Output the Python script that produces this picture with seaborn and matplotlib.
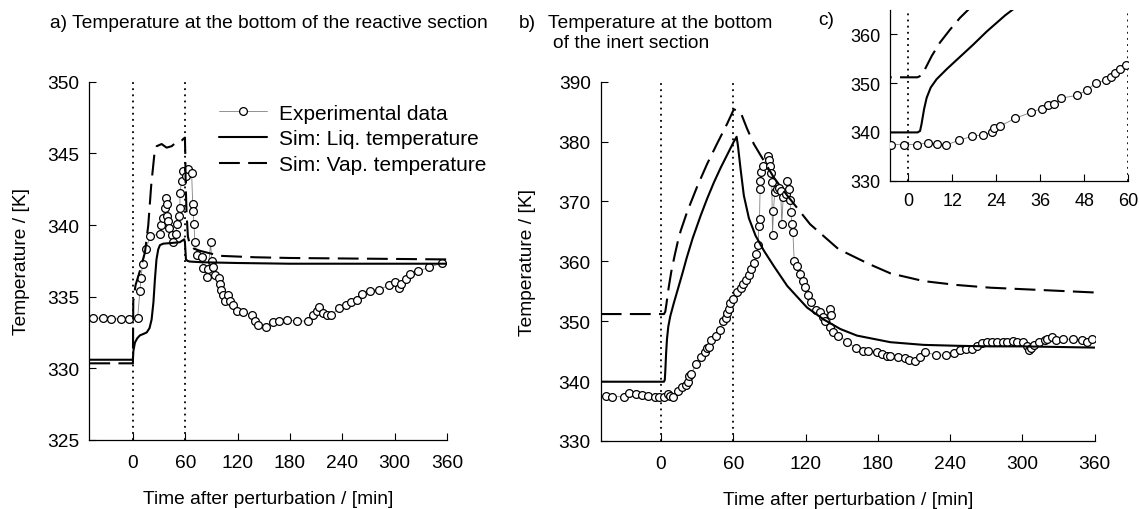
import numpy as np
import pandas as pd
import matplotlib
matplotlib.use("Agg")
import matplotlib.pyplot as plt
import seaborn as sns

# ---------------- data ----------------
# Panel a: bottom of reactive section
a_exp_t = [-45.5, -34, -25.6, -14.1, -4.2, 5.4, 8, 9.2, 11.1, 14.9, 19.5, 31, 32.1, 34, 36.7, 37.8,
           39.4, 38.6, 40.5, 41.3, 44.4, 46.2, 49, 50.8, 53.1, 53.9, 53.9, 55.8, 57.7, 60.4, 62.7,
           67.3, 68.5, 69.1, 69.9, 71.1, 73.7, 78.8, 80.6, 84.5, 86.3, 89.1, 90.2, 92.1, 94, 99,
           99.8, 100.6, 102.9, 105.5, 109.3, 111.2, 114.3, 119.6, 126.5, 136.1, 139.9, 143.7, 152.5,
           160.9, 167.8, 176.3, 187.7, 201, 206.8, 211.4, 213.6, 217.5, 222.1, 226.7, 236.6, 244.3,
           250, 256.5, 262.3, 271.8, 282.1, 293.9, 300.5, 305, 307, 313.1, 317.7, 327.2, 339.9, 354.1]
a_exp_v = [333.5, 333.5, 333.45, 333.45, 333.45, 333.5, 335.4, 336.3, 337.3, 338.3, 339.2, 339.4,
           340.0, 340.5, 341.2, 341.9, 341.5, 340.65, 340.3, 339.8, 339.3, 338.8, 339.4, 340.1,
           340.65, 341.2, 342.2, 343.1, 343.8, 343.4, 343.9, 343.6, 341.5, 341.0, 340.1, 338.8,
           337.9, 337.8, 337.0, 336.35, 336.9, 338.8, 337.5, 337.05, 336.5, 336.3, 335.9, 335.5,
           335.1, 334.7, 335.1, 334.7, 334.4, 334.0, 333.95, 333.7, 333.3, 333.0, 332.85, 333.2,
           333.3, 333.4, 333.3, 333.3, 333.7, 334.0, 334.3, 333.85, 333.7, 333.7, 334.2, 334.4,
           334.65, 334.8, 335.2, 335.4, 335.5, 335.8, 336.0, 335.6, 335.9, 336.2, 336.6, 336.8,
           337.05, 337.35]

a_liq_t = [-50, 0, 0.5, 2.3, 5, 8, 12, 15.7, 19, 21.4, 23.5, 25.2, 27, 29, 31, 34.8, 45, 53.7, 58.8,
           59.6, 60.8, 62.5, 65.4, 80, 120, 180, 360]
a_liq_v = [330.6, 330.6, 331.2, 331.8, 332.1, 332.3, 332.4, 332.5, 332.8, 333.4, 334.6, 336.2,
           337.6, 338.3, 338.6, 338.7, 338.75, 338.8, 339.0, 338.8, 337.6, 337.5, 337.45, 337.4,
           337.35, 337.3, 337.3]

a_vap_t = [-50, 0, 0.4, 3, 8, 13.8, 17.6, 21, 25.2, 27.2, 32.9, 38.6, 44.4, 50.1, 55.8, 59.6, 60.0,
           60.4, 61.5, 63, 65.4, 70, 76.8, 99.8, 140, 180, 360]
a_vap_v = [330.35, 330.35, 334.7, 335.8, 336.8, 338.1, 340.0, 342.8, 345.3, 345.5, 345.65, 345.4,
           345.5, 345.8, 345.9, 346.1, 345.0, 343.0, 340.8, 339.2, 338.6, 338.35, 338.2, 337.85,
           337.75, 337.7, 337.6]

# Panel b: bottom of inert section (inset c shows the same series for 0-60 min)
b_exp_t = [-45.9, -40.4, -30.7, -26.5, -21, -15.5, -10.5,
           -4.8, -1.2, 2.5, 5.5, 7.7, 10.3, 13.8, 17.4, 20.4, 22.7, 23.4, 25, 29.2, 33.4, 36.4,
           38.1, 39.8, 41.6, 45.9, 48.8, 51.2, 53.9, 55.2, 56.5, 57.7, 59.5,
           63.5, 66.1, 68.5, 70.5, 72.8, 75.0, 77.1, 79.3, 80.6, 81.3, 81.8, 82.3, 82.6, 82.8,
           84.9, 88.6, 89.6, 90.4, 91.2, 92.0, 92.6, 93.4, 94.4, 96.3, 97.8, 99.4, 100.3, 101.5,
           103.5, 104.8, 106.2, 107.1, 107.7, 108.7, 109.5, 110.6, 112.8, 115, 117.8, 119.7,
           121.7, 124.4, 128.8, 132.1, 134.9, 136.3, 139.9, 141, 140.4, 142.6, 147.3, 154.7,
           161.9, 167.5, 172.2, 179.6, 183.2, 187.4, 190.1, 197, 202.6, 206.2, 210.9, 215,
           219.2, 228.3, 236.6, 243.3, 248.2, 253.2, 258, 262.7, 266.3, 270.4, 274.5, 279.3,
           284.2, 287.6, 292, 295.3, 300.8, 303.6, 305.8, 306.9, 309.7, 314.1, 318.8, 320.7,
           324.3, 327.9, 334, 341.7, 349.2, 353.9, 357.5]
b_exp_v = [337.5, 337.4, 337.4, 338.0, 337.8, 337.6, 337.5,
           337.4, 337.4, 337.4, 337.8, 337.5, 337.3, 338.3, 339.1, 339.4, 339.9, 340.8, 341.2,
           342.8, 344.0, 344.8, 345.5, 345.7, 346.9, 347.5, 348.6, 350.1, 350.6, 351.3, 352.0,
           353.0, 353.7,
           354.9, 355.6, 356.2, 356.9, 357.8, 358.7, 359.8, 361.2, 362.8, 365.9, 367.0, 372.1,
           373.5, 374.9, 376.0, 377.6, 377.0, 376.0, 374.8, 373.2, 364.4, 368.4, 371.5, 372.1,
           372.3, 371.8, 366.2, 370.8, 371.3, 373.4, 372.1, 370.2, 368.3, 366.3, 364.9, 360.1,
           359.2, 357.9, 356.8, 355.8, 354.3, 353.2, 351.9, 351.5, 350.7, 350.1, 352.1, 351.0,
           349.0, 348.2, 347.6, 346.6, 345.5, 345.1, 345.1, 344.9, 344.6, 344.2, 344.2, 344.0,
           343.9, 343.5, 343.3, 344.0, 344.9, 344.3, 344.4, 344.7, 345.2, 345.4, 345.4, 345.8,
           346.4, 346.6, 346.6, 346.6, 346.5, 346.6, 346.7, 346.6, 346.5, 345.9, 345.2, 345.6,
           346.0, 346.5, 346.9, 347.1, 347.3, 346.9, 347.0, 347.0, 346.9, 346.6, 347.0]

b_liq_t = [-50, 0, 2.5, 3.2, 3.6, 4.3, 5.0, 6.1, 7.7, 10.5, 14.1, 17.7, 21.4, 26.4, 32.9, 38.4, 44,
           49.5, 55, 60, 62.8, 63.9, 66.1, 68.8, 73, 78.5, 85.4, 93.7, 104.8, 121.2, 135, 148.9,
           162.7, 190.4, 218.1, 245.7, 273.4, 301, 360]
b_liq_v = [339.9, 339.9, 339.9, 340.2, 341.6, 344.7, 347.0, 349.1, 350.8, 352.9, 355.4, 357.9,
           360.6, 363.9, 367.6, 370.5, 373.2, 375.6, 377.8, 379.8, 380.8, 379.3, 375.4, 371.0,
           367.2, 364.3, 361.8, 359.2, 355.9, 352.3, 350.3, 348.7, 347.6, 346.5, 346.05, 345.9,
           345.8, 345.8, 345.6]

b_vap_t = [-50, 0, 2.5, 3.6, 4.5, 6.4, 8.6, 11.4, 14.1, 16.4, 21.8, 30.1, 38.4, 46.7, 55, 60.5,
           66.1, 71.6, 77.1, 85.4, 93.7, 104.8, 123.8, 147.3, 172.2, 190.4, 218.1, 245.7, 273.4,
           295.3, 360]
b_vap_v = [351.2, 351.2, 351.2, 351.6, 352.8, 355.6, 358.3, 361.0, 363.4, 365.1, 368.3, 372.5,
           376.3, 379.7, 383.0, 385.4, 384.9, 382.1, 379.6, 376.8, 374.0, 371.0, 366.2, 362.05,
           359.6, 358.0, 356.7, 356.05, 355.6, 355.4, 354.8]

perturb_lines = [0, 60]
a_xticks = [0, 60, 120, 180, 240, 300, 360]
a_yticks = [325, 330, 335, 340, 345, 350]
b_yticks = [330, 340, 350, 360, 370, 380, 390]
c_xticks = [0, 12, 24, 36, 48, 60]
c_yticks = [330, 340, 350, 360]

labels = ["Experimental data", "Sim: Liq. temperature", "Sim: Vap. temperature"]

# ---------------- style ----------------
sns.set_theme(style="ticks")
plt.rcParams["font.family"] = ["Liberation Sans", "DejaVu Sans"]
FS = 13.8
plt.rcParams.update({
    "axes.linewidth": 0.9,
    "xtick.direction": "in", "ytick.direction": "in",
    "xtick.major.size": 5, "ytick.major.size": 5,
    "xtick.major.width": 0.8, "ytick.major.width": 0.8,
    "xtick.color": "black", "ytick.color": "black",
    "axes.edgecolor": "black",
    "text.color": "black", "axes.labelcolor": "black",
})

W, H = 1139, 510
fig = plt.figure(figsize=(W / 100, H / 100), dpi=100)


def px_axes(l, t, r, b):
    return fig.add_axes([l / W, 1 - b / H, (r - l) / W, (b - t) / H])


ax_a = px_axes(89.3, 82.7, 447, 441)
ax_b = px_axes(600.7, 82.7, 1094.7, 442)
ax_c = px_axes(890, 11, 1128.3, 181.7)

LW_SIM = 1.5
DASH = (0, (10, 4))
DOT = (0, (1, 2.4))
MS = 5.6


def draw(ax, et, ev, lt, lv, vt, vv):
    sns.lineplot(x=et, y=ev, ax=ax, estimator=None, sort=False, color="0.5", lw=0.6,
                 marker="o", markersize=MS, markerfacecolor="white", markeredgecolor="black",
                 markeredgewidth=0.9, label=labels[0], legend=False, zorder=3)
    sns.lineplot(x=lt, y=lv, ax=ax, estimator=None, sort=False, color="black", lw=LW_SIM,
                 label=labels[1], legend=False, zorder=4)
    sns.lineplot(x=vt, y=vv, ax=ax, estimator=None, sort=False, color="black", lw=LW_SIM,
                 linestyle=DASH, label=labels[2], legend=False, zorder=4)
    for xv in perturb_lines:
        ax.axvline(xv, color="black", lw=1.3, linestyle=DOT, zorder=2)
    sns.despine(ax=ax)
    ax.set_xlabel("")
    ax.set_ylabel("")


draw(ax_a, a_exp_t, a_exp_v, a_liq_t, a_liq_v, a_vap_t, a_vap_v)
draw(ax_b, b_exp_t, b_exp_v, b_liq_t, b_liq_v, b_vap_t, b_vap_v)

ct = [t for t in b_exp_t if -6 <= t <= 61]
cv = [v for t, v in zip(b_exp_t, b_exp_v) if -6 <= t <= 61]
draw(ax_c, ct, cv, b_liq_t, b_liq_v, b_vap_t, b_vap_v)

# axes limits / ticks
ax_a.set_xlim(-50, 360); ax_a.set_ylim(325, 350)
ax_a.set_xticks(a_xticks); ax_a.set_yticks(a_yticks)
ax_b.set_xlim(-50, 360); ax_b.set_ylim(330, 390)
ax_b.set_xticks(a_xticks); ax_b.set_yticks(b_yticks)
ax_c.set_xlim(-5, 60); ax_c.set_ylim(330, 365)
ax_c.set_xticks(c_xticks); ax_c.set_yticks(c_yticks)
ax_c.set_facecolor("white")

for ax in (ax_a, ax_b):
    ax.tick_params(axis="x", labelsize=FS, pad=10.3)
    ax.tick_params(axis="y", labelsize=FS, pad=7.2)
    ax.set_xlabel("Time after perturbation / [min]", fontsize=FS)
    ax.set_ylabel("Temperature / [K]", fontsize=FS)
ax_c.tick_params(axis="x", labelsize=13, pad=8.0)
ax_c.tick_params(axis="y", labelsize=13, pad=7)

ax_a.yaxis.set_label_coords(-0.166, 0.5)
ax_a.xaxis.set_label_coords(0.5, -0.14)
ax_b.yaxis.set_label_coords(-0.13, 0.5)
ax_b.xaxis.set_label_coords(0.5, -0.14)

# legend
h = ax_a.get_lines()[:3]
ax_a.legend(h, labels, loc="upper left", bbox_to_anchor=(0.363, 0.939), frameon=False,
            fontsize=15, handlelength=2.3, handletextpad=0.58, labelspacing=0.33,
            borderpad=0, borderaxespad=0)

# titles
fig.text(50 / W, 1 - 24 / H, "a) Temperature at the bottom of the reactive section",
         fontsize=FS, ha="left", va="center")
fig.text(519 / W, 1 - 24 / H, "b)", fontsize=FS, ha="left", va="center")
fig.text(548 / W, 1 - 24 / H, "Temperature at the bottom", fontsize=FS, ha="left", va="center")
fig.text(553 / W, 1 - 43.5 / H, "of the inert section", fontsize=FS, ha="left", va="center")
fig.text(818 / W, 1 - 20.5 / H, "c)", fontsize=FS, ha="left", va="center")

fig.savefig("out.png", dpi=100)
